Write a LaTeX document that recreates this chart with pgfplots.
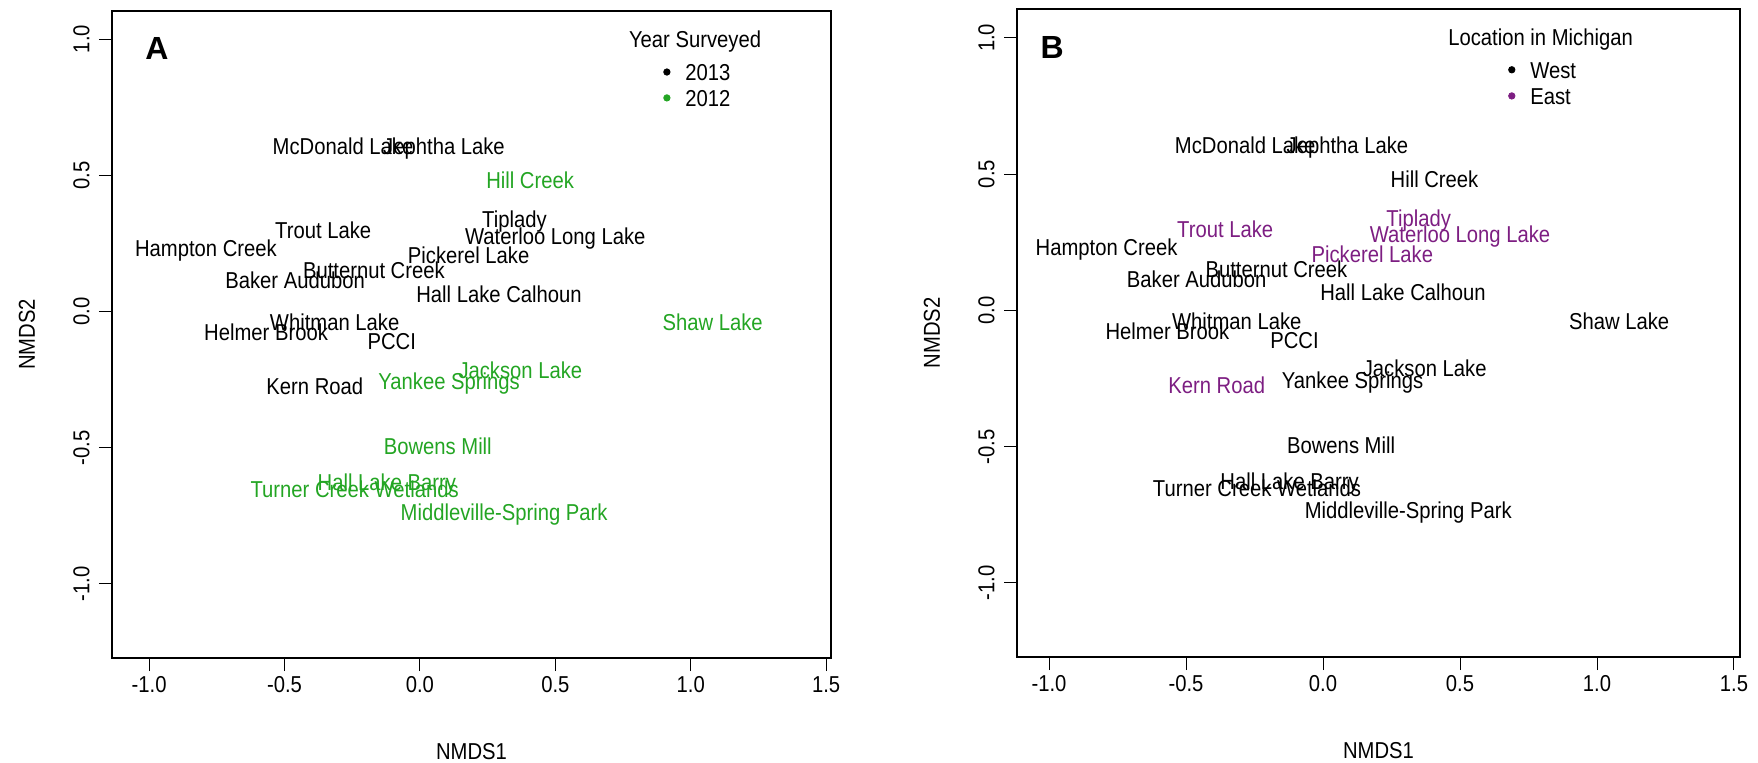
\documentclass[border=0pt]{standalone}
\usepackage{fontspec}
\setmainfont{Liberation Sans}[FakeStretch=0.88]
\newfontfamily\plainsans{Liberation Sans}
\usepackage{pgfplots}
\pgfplotsset{compat=1.18}
\usepackage{pgfplotstable}

\definecolor{grn}{RGB}{35,165,35}
\definecolor{prp}{RGB}{125,30,130}
\newcommand{\lblfont}{\fontsize{11.5}{13}\selectfont}
\newcommand{\panelfont}{\fontsize{16}{16}\plainsans\bfseries}

% Panel A: year surveyed
\pgfplotstableread[col sep=comma,row sep=\\]{
x,y,label\\
-0.284,0.605,McDonald Lake\\
0.089,0.605,Jephtha Lake\\
0.349,0.339,Tiplady\\
0.500,0.278,Waterloo Long Lake\\
-0.357,0.297,Trout Lake\\
-0.790,0.232,Hampton Creek\\
0.180,0.208,Pickerel Lake\\
-0.170,0.150,Butternut Creek\\
-0.461,0.116,Baker Audubon\\
0.292,0.065,Hall Lake Calhoun\\
-0.315,-0.039,Whitman Lake\\
-0.568,-0.076,Helmer Brook\\
-0.104,-0.110,PCCI\\
-0.388,-0.275,Kern Road\\
}\Ablack
\pgfplotstableread[col sep=comma,row sep=\\]{
x,y,label\\
0.407,0.483,Hill Creek\\
1.081,-0.040,Shaw Lake\\
0.371,-0.214,Jackson Lake\\
0.108,-0.257,Yankee Springs\\
0.066,-0.494,Bowens Mill\\
-0.122,-0.626,Hall Lake Barry\\
-0.241,-0.653,Turner Creek Wetlands\\
0.311,-0.735,Middleville-Spring Park\\
}\Agreen
% Panel B: location in Michigan
\pgfplotstableread[col sep=comma,row sep=\\]{
x,y,label\\
-0.284,0.605,McDonald Lake\\
0.089,0.605,Jephtha Lake\\
0.407,0.483,Hill Creek\\
-0.790,0.232,Hampton Creek\\
-0.170,0.150,Butternut Creek\\
-0.461,0.116,Baker Audubon\\
0.292,0.065,Hall Lake Calhoun\\
1.081,-0.040,Shaw Lake\\
-0.315,-0.039,Whitman Lake\\
-0.568,-0.076,Helmer Brook\\
-0.104,-0.110,PCCI\\
0.371,-0.214,Jackson Lake\\
0.108,-0.257,Yankee Springs\\
0.066,-0.494,Bowens Mill\\
-0.122,-0.626,Hall Lake Barry\\
-0.241,-0.653,Turner Creek Wetlands\\
0.311,-0.735,Middleville-Spring Park\\
}\Bblack
\pgfplotstableread[col sep=comma,row sep=\\]{
x,y,label\\
0.349,0.339,Tiplady\\
0.500,0.278,Waterloo Long Lake\\
-0.357,0.297,Trout Lake\\
0.180,0.208,Pickerel Lake\\
-0.388,-0.275,Kern Road\\
}\Bpurple

\pgfplotsset{
  nmds/.style={
    scale only axis,
    xtick={-1,-0.5,0,0.5,1,1.5},
    ytick={-1,-0.5,0,0.5,1},
    tick align=outside, tick pos=left,
    major tick length=6.5pt,
    tick style={black, line width=0.5pt},
    axis line style={black, line width=0.6pt},
    /pgf/number format/.cd, fixed, fixed zerofill, precision=1, assume math mode=true, /pgfplots/.cd,
    ticklabel style={font=\lblfont},
    xticklabel style={anchor=north, inner sep=0pt},
    yticklabel style={rotate=90, anchor=south, inner sep=0pt},
    xticklabel shift=2.5pt,
    yticklabel shift=4.5pt,
    xlabel={NMDS1}, ylabel={NMDS2},
    label style={font=\lblfont},
    xlabel style={at={([yshift=-47pt]axis description cs:0.5,0)}, anchor=center},
    ylabel style={at={([xshift=-42.5pt]axis description cs:0,0.5)}, anchor=center, rotate=0},
  },
  lbl/.style={only marks, mark=none, nodes near coords, point meta=explicit symbolic,
    every node near coord/.style={anchor=center, inner sep=0pt, font=\lblfont,
      text height=8.3pt, text depth=0pt, text=#1}},
}

\begin{document}
\begin{tikzpicture}
\useasboundingbox (0,0) rectangle (879pt,381pt);
\begin{axis}[nmds, at={(56pt,52pt)}, anchor=south west,
  width=359.5pt, height=323.5pt,
  xmin=-1.137, xmax=1.518, ymin=-1.272, ymax=1.103]
  \addplot[lbl=black] table[x=x,y=y,meta=label]{\Ablack};
  \addplot[lbl=grn] table[x=x,y=y,meta=label]{\Agreen};
  \addplot[only marks, mark=*, mark size=1.6pt, black] coordinates {(0.912,0.879)};
  \addplot[only marks, mark=*, mark size=1.6pt, grn, mark options={fill=grn, draw=grn}] coordinates {(0.912,0.784)};
  \node[font=\lblfont, text height=8.3pt, text depth=0pt, inner sep=0pt] at (axis cs:1.016,1.000) {Year Surveyed};
  \node[font=\lblfont, text height=8.3pt, text depth=0pt, inner sep=0pt, anchor=west] at (axis cs:0.979,0.879) {2013};
  \node[font=\lblfont, text height=8.3pt, text depth=0pt, inner sep=0pt, anchor=west] at (axis cs:0.979,0.784) {2012};
  \node[font=\panelfont, inner sep=0pt] at (axis cs:-0.971,0.964) {A};
\end{axis}
\begin{axis}[nmds, at={(508.5pt,52.5pt)}, anchor=south west,
  width=361.5pt, height=324pt,
  xmin=-1.117, xmax=1.522, ymin=-1.272, ymax=1.106]
  \addplot[lbl=black] table[x=x,y=y,meta=label]{\Bblack};
  \addplot[lbl=prp] table[x=x,y=y,meta=label]{\Bpurple};
  \addplot[only marks, mark=*, mark size=1.6pt, black] coordinates {(0.689,0.883)};
  \addplot[only marks, mark=*, mark size=1.6pt, prp, mark options={fill=prp, draw=prp}] coordinates {(0.689,0.787)};
  \node[font=\lblfont, text height=8.3pt, text depth=0pt, inner sep=0pt] at (axis cs:0.794,1.002) {Location in Michigan};
  \node[font=\lblfont, text height=8.3pt, text depth=0pt, inner sep=0pt, anchor=west] at (axis cs:0.755,0.883) {West};
  \node[font=\lblfont, text height=8.3pt, text depth=0pt, inner sep=0pt, anchor=west] at (axis cs:0.755,0.787) {East};
  \node[font=\panelfont, inner sep=0pt] at (axis cs:-0.989,0.964) {B};
\end{axis}
\end{tikzpicture}
\end{document}
